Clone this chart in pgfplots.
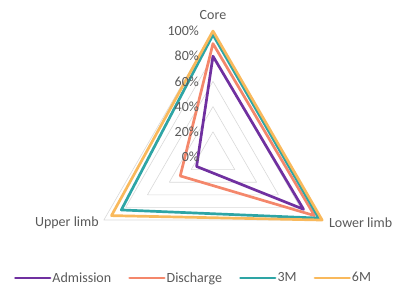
\documentclass[border=0pt]{standalone}
\usepackage{pgfplots}
\pgfplotsset{compat=1.18}
\usepackage{fontspec}
\setmainfont{Carlito}
\definecolor{adm}{HTML}{7030A0}
\definecolor{dis}{HTML}{F4876B}
\definecolor{tm}{HTML}{2EA5A5}
\definecolor{sm}{HTML}{F9B95C}
\definecolor{grd}{HTML}{D9D9D9}
\definecolor{txt}{HTML}{595959}
\begin{document}
\begin{tikzpicture}
\begin{axis}[
  x=1.26pt, y=1.26pt,
  xmin=-169, xmax=150, ymin=-104.8, ymax=124.6,
  hide axis, clip=false,
  every axis plot/.append style={line join=round, line cap=round},
  legend columns=4,
  legend image code/.code={\draw[#1, line width=2.7pt] (0cm,0cm) -- (1.22cm,0cm);},
  legend style={draw=none, fill=none, at={(axis cs:-158,-96)}, anchor=west,
    font=\fontsize{14}{16}\selectfont, text=txt, inner sep=0pt,
    nodes={inner sep=1pt},
    /tikz/every even column/.append style={column sep=16pt}},
]
% grid triangles
\addplot[grd, line width=0.6pt, forget plot, data cs=polar] coordinates {(90,20) (-30,20) (210,20) (90,20)};
\addplot[grd, line width=0.6pt, forget plot, data cs=polar] coordinates {(90,40) (-30,40) (210,40) (90,40)};
\addplot[grd, line width=0.6pt, forget plot, data cs=polar] coordinates {(90,60) (-30,60) (210,60) (90,60)};
\addplot[grd, line width=0.6pt, forget plot, data cs=polar] coordinates {(90,80) (-30,80) (210,80) (90,80)};
\addplot[grd, line width=0.6pt, forget plot, data cs=polar] coordinates {(90,100) (-30,100) (210,100) (90,100)};
% series
\addplot[adm, line width=2.7pt, data cs=polar] coordinates {(90,80) (-30,83) (210,15) (90,80)};
\addlegendentry{Admission}
\addplot[dis, line width=2.7pt, data cs=polar] coordinates {(90,90) (-30,93) (210,30) (90,90)};
\addlegendentry{Discharge}
\addplot[tm, line width=2.7pt, data cs=polar] coordinates {(90,97) (-30,97) (210,84) (90,97)};
\addlegendentry{3M}
\addplot[sm, line width=2.7pt, data cs=polar] coordinates {(90,100) (-30,100) (210,93) (90,100)};
\addlegendentry{6M}
% tick labels
\foreach \r in {0,20,40,60,80,100} {
  \edef\temp{\noexpand\node[anchor=east, text=txt, font=\noexpand\fontsize{14}{16}\noexpand\selectfont, inner sep=0pt] at (axis cs:-11,\r) {\r\noexpand\%};}
  \temp
}
\node[text=txt, font=\fontsize{14}{16}\selectfont] at (axis cs:0,112.7) {Core};
\node[text=txt, font=\fontsize{14}{16}\selectfont, anchor=east, inner sep=0pt] at (axis cs:-90.5,-52.4) {Upper limb};
\node[text=txt, font=\fontsize{14}{16}\selectfont, anchor=west, inner sep=0pt] at (axis cs:92,-52.4) {Lower limb};
\end{axis}
\pgfresetboundingbox
\path[use as bounding box] (current axis.south west) rectangle (current axis.north east);
\end{tikzpicture}
\end{document}
